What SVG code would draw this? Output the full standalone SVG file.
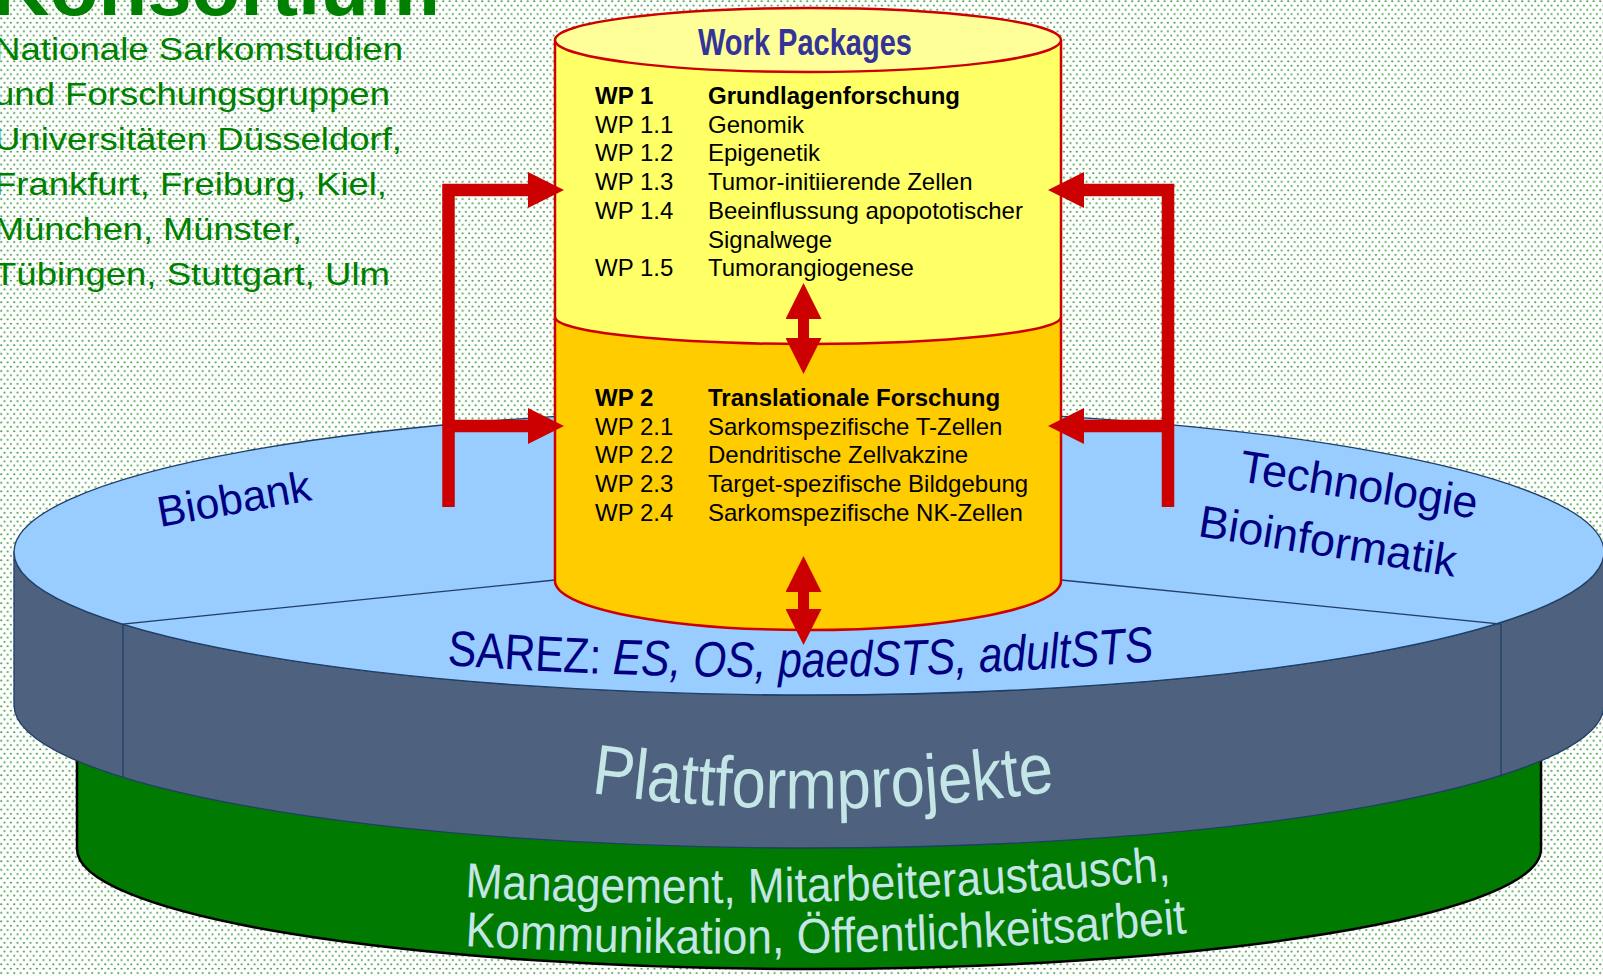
<svg xmlns="http://www.w3.org/2000/svg" width="1603" height="976" viewBox="0 0 1603 976">
<defs>
<pattern id="dots" width="6.5" height="8.6" patternUnits="userSpaceOnUse">
<rect width="6.5" height="8.6" fill="#ffffff"/>
<circle cx="1.2" cy="1.2" r="1.05" fill="#3d9a3d"/>
<circle cx="4.45" cy="5.5" r="1.05" fill="#3d9a3d"/>
</pattern>
<marker id="head" markerUnits="userSpaceOnUse" markerWidth="36" markerHeight="36" viewBox="0 0 36 36" refX="0" refY="18" orient="auto-start-reverse">
<path d="M0 0 L36 18 L0 36 Z" fill="#CC0000"/>
</marker>
<path id="pSarez" d="M 447 665 Q 800 691 1153 661"/>
<path id="pPlatt" d="M 591 793 Q 822 825 1056 791"/>
<path id="pMan1" d="M 465 897 Q 800 915 1172 880"/>
<path id="pMan2" d="M 465 946 Q 810 966 1188 933"/>
</defs>
<style>
.sans{font-family:"Liberation Sans",Arial,sans-serif}
.green{fill:#008000}
.navy{fill:#000080}
.pale{fill:#C4E6E6}
.wp{font-family:"Liberation Sans",Arial,sans-serif;font-size:24px;fill:#000}
.wpb{font-weight:bold}
.conn{fill:none;stroke:#CC0000;stroke-width:12.5;stroke-linejoin:miter}
.dbl{fill:none;stroke:#CC0000;stroke-width:11;marker-start:url(#head);marker-end:url(#head)}
.edge{fill:none;stroke:#1F3F66;stroke-width:1.3}
</style>

<rect width="1603" height="976" fill="url(#dots)"/>

<g id="title">
<text class="sans green" x="-8" y="15" font-size="78" font-weight="bold" textLength="448" lengthAdjust="spacingAndGlyphs">Konsortium</text>
</g>

<g id="konsortium-text" class="sans green" font-size="32">
<text x="-6" y="60" textLength="409" lengthAdjust="spacingAndGlyphs">Nationale Sarkomstudien</text>
<text x="-6" y="105" textLength="396" lengthAdjust="spacingAndGlyphs">und Forschungsgruppen</text>
<text x="-6" y="150" textLength="408" lengthAdjust="spacingAndGlyphs">Universitäten Düsseldorf,</text>
<text x="-6" y="195" textLength="393" lengthAdjust="spacingAndGlyphs">Frankfurt, Freiburg, Kiel,</text>
<text x="-6" y="240" textLength="308" lengthAdjust="spacingAndGlyphs">München, Münster,</text>
<text x="-6" y="285" textLength="396" lengthAdjust="spacingAndGlyphs">Tübingen, Stuttgart, Ulm</text>
</g>

<g id="basis">
<path d="M 77 700 V 849 A 732 120 0 0 0 1541 849 V 700 Z" fill="#007A00"/>
<path d="M 77 755 V 849 A 732 120 0 0 0 1541 849 V 755" fill="none" stroke="#000" stroke-width="2.5"/>
<text class="sans pale" font-size="49"><textPath href="#pMan1" textLength="707" lengthAdjust="spacingAndGlyphs">Management, Mitarbeiteraustausch,</textPath></text>
<text class="sans pale" font-size="49"><textPath href="#pMan2" textLength="723" lengthAdjust="spacingAndGlyphs">Kommunikation, Öffentlichkeitsarbeit</textPath></text>
</g>

<g id="plattform">
<path d="M 14 552 A 795 143 0 0 0 1604 552 V 705 A 795 143 0 0 1 14 705 Z" fill="#4E6280" stroke="#1F3F66" stroke-width="1.3"/>
<ellipse cx="809" cy="552" rx="795" ry="143" fill="#99CCFF" stroke="#1F3F66" stroke-width="1.3"/>
<path class="edge" d="M 555 580 L 123 624 V 777"/>
<path class="edge" d="M 1061 580 L 1501 624 V 777"/>
<text class="sans pale" font-size="71"><textPath href="#pPlatt" textLength="466" lengthAdjust="spacingAndGlyphs">Plattformprojekte</textPath></text>
</g>

<g id="biobank">
<text class="sans navy" font-size="43" transform="translate(160,527) rotate(-10)">Biobank</text>
</g>
<g id="technologie">
<text class="sans navy" font-size="45" transform="translate(1238,481) rotate(9)">Technologie</text>
<text class="sans navy" font-size="45" transform="translate(1197,536) rotate(9)">Bioinformatik</text>
</g>
<g id="sarez">
<text class="sans navy" font-size="50"><textPath href="#pSarez" textLength="708" lengthAdjust="spacingAndGlyphs">SAREZ: <tspan font-style="italic">ES, OS, paedSTS, adultSTS</tspan></textPath></text>
</g>

<g id="workpackages">
<path d="M 555 40 V 581 A 253 49 0 0 0 1061 581 V 40 Z" fill="#FFFF66"/>
<path d="M 555 317 A 253 27 0 0 0 1061 317 V 581 A 253 49 0 0 1 555 581 Z" fill="#FFCC00"/>
<path d="M 555 317 A 253 27 0 0 0 1061 317" fill="none" stroke="#CC0000" stroke-width="2.5"/>
<path d="M 555 40 V 581 A 253 49 0 0 0 1061 581 V 40" fill="none" stroke="#CC0000" stroke-width="2.5"/>
<ellipse cx="808" cy="40" rx="253" ry="32" fill="#FFFF99" stroke="#CC0000" stroke-width="2.5"/>
<text x="805" y="55" text-anchor="middle" font-family="'Liberation Sans',Arial,sans-serif" font-size="36" font-weight="bold" fill="#333399" textLength="214" lengthAdjust="spacingAndGlyphs">Work Packages</text>
</g>

<g id="wp1" class="wp">
<text x="595" y="104" class="wpb">WP 1</text><text x="708" y="104" class="wpb">Grundlagenforschung</text>
<text x="595" y="132.7">WP 1.1</text><text x="708" y="132.7">Genomik</text>
<text x="595" y="161.4">WP 1.2</text><text x="708" y="161.4">Epigenetik</text>
<text x="595" y="190.1">WP 1.3</text><text x="708" y="190.1">Tumor-initiierende Zellen</text>
<text x="595" y="218.8">WP 1.4</text><text x="708" y="218.8">Beeinflussung apopototischer</text>
<text x="708" y="247.5">Signalwege</text>
<text x="595" y="276.2">WP 1.5</text><text x="708" y="276.2">Tumorangiogenese</text>
</g>

<g id="wp2" class="wp">
<text x="595" y="406" class="wpb">WP 2</text><text x="708" y="406" class="wpb">Translationale Forschung</text>
<text x="595" y="434.7">WP 2.1</text><text x="708" y="434.7">Sarkomspezifische T-Zellen</text>
<text x="595" y="463.4">WP 2.2</text><text x="708" y="463.4">Dendritische Zellvakzine</text>
<text x="595" y="492.1">WP 2.3</text><text x="708" y="492.1">Target-spezifische Bildgebung</text>
<text x="595" y="520.8">WP 2.4</text><text x="708" y="520.8">Sarkomspezifische NK-Zellen</text>
</g>

<g id="connectors">
<path class="conn" d="M 448.5 507 V 190 H 528" marker-end="url(#head)"/>
<path class="conn" d="M 448.5 426 H 528" marker-end="url(#head)"/>
<path class="conn" d="M 1168 507 V 190 H 1084" marker-end="url(#head)"/>
<path class="conn" d="M 1168 426 H 1084" marker-end="url(#head)"/>
<path class="dbl" d="M 803.5 319 V 338"/>
<path class="dbl" d="M 803.5 592 V 609"/>
</g>
</svg>
